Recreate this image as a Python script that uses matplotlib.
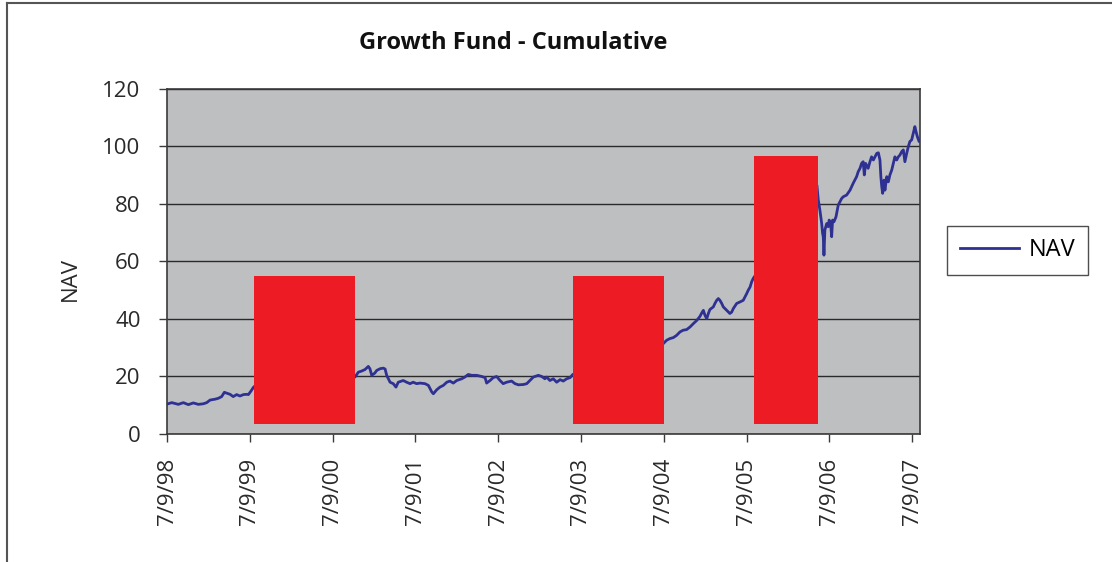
import matplotlib
matplotlib.use('Agg')
import matplotlib.pyplot as plt
import matplotlib.dates as mdates
from matplotlib.lines import Line2D
import pandas as pd

plt.rcParams['font.family'] = ['Open Sans', 'DejaVu Sans']

# NAV: days after 7/9/98 and value
nav_days = [0, 21, 50, 72, 94, 116, 138, 160, 175, 190, 212, 226, 241, 253, 263, 278,
            292, 307, 322, 337, 352, 359, 371, 381, 386,
            829, 844, 859, 873, 888, 895, 903, 917, 925, 940, 954, 962, 969, 984, 998,
            1010, 1020, 1042, 1057, 1072, 1086, 1101, 1116, 1138, 1153, 1168, 1175, 1190,
            1204, 1219, 1234, 1248, 1263, 1278, 1300, 1314, 1329, 1344, 1366, 1388, 1403,
            1410, 1425, 1439, 1454, 1469, 1483, 1498, 1520, 1535, 1550, 1572, 1587, 1601,
            1616, 1638, 1653, 1667, 1675, 1689, 1704, 1719, 1734, 1748, 1763, 1778, 1790,
            2189, 2204, 2219, 2233, 2248, 2263, 2277, 2292, 2307, 2322, 2337, 2351, 2359,
            2366, 2373, 2381, 2388, 2395, 2410, 2417, 2425, 2432, 2439, 2447, 2454, 2469,
            2483, 2491, 2498, 2513, 2527, 2542, 2550, 2557, 2564, 2572, 2579, 2586,
            2867, 2873, 2880, 2888, 2892, 2895, 2898, 2902, 2910, 2917, 2921, 2928, 2932,
            2936, 2942, 2951, 2957, 2961, 2969, 2976, 2983, 2998, 3013, 3020, 3027, 3042,
            3049, 3057, 3064, 3071, 3076, 3082, 3093, 3101, 3108, 3116, 3123, 3131, 3138,
            3145, 3149, 3153, 3157, 3163, 3167, 3175, 3182, 3189, 3197, 3204, 3211, 3219,
            3226, 3233, 3241, 3248, 3255, 3263, 3270, 3277, 3285, 3292, 3299, 3304, 3310,
            3318, 3322]
nav_values = [10.4, 10.9, 10.3, 10.9, 10.2, 10.8, 10.3, 10.5, 10.9, 11.8, 12.1, 12.4, 13.0,
              14.5, 14.2, 13.8, 13.0, 13.7, 13.2, 13.7, 13.8, 13.7, 15.0, 16.2, 16.6,
              19.8, 21.5, 21.9, 22.4, 23.5, 22.7, 20.4, 21.2, 22.1, 22.7, 22.9, 22.6, 20.4,
              18.0, 17.5, 16.3, 18.0, 18.6, 18.0, 17.5, 18.0, 17.5, 17.7, 17.5, 16.9, 14.6,
              14.0, 15.4, 16.3, 16.9, 18.0, 18.4, 17.7, 18.6, 19.2, 19.8, 20.7, 20.4, 20.4,
              20.0, 19.6, 17.7, 18.6, 19.6, 20.0, 18.6, 17.5, 18.0, 18.4, 17.5, 17.1, 17.2,
              17.5, 18.6, 19.8, 20.4, 20.0, 19.2, 19.8, 18.6, 19.2, 18.0, 18.9, 18.4, 19.2,
              19.6, 20.7,
              31.4, 32.6, 33.2, 33.5, 34.3, 35.5, 36.1, 36.3, 37.2, 38.4, 39.5, 40.9, 42.1,
              43.0, 41.3, 40.1, 41.9, 43.3, 44.2, 45.4, 46.5, 47.1, 46.5, 45.4, 44.2, 43.0,
              41.9, 42.4, 43.6, 45.4, 45.9, 46.5, 47.7, 48.8, 50.0, 51.1, 52.9, 54.1,
              86.5, 81.4, 77.9, 73.2, 69.8, 68.6, 62.2, 70.9, 73.2, 72.1, 74.4, 72.6, 68.6,
              74.4, 73.8, 75.5, 77.9, 79.6, 80.8, 81.9, 82.5, 83.1, 84.8, 86.0, 87.2, 89.5,
              91.2, 92.4, 94.1, 94.7, 90.1, 94.1, 92.4, 94.7, 96.4, 95.3, 96.4, 97.6, 97.8,
              95.3, 89.5, 86.0, 83.7, 88.3, 84.8, 89.5, 87.7, 90.1, 91.8, 94.1, 96.4, 95.3,
              96.4, 97.0, 98.2, 98.8, 94.7, 97.6, 99.9, 101.7, 102.3, 104.6, 106.9, 105.2, 103.4,
              101.7, 102.0]

# red boxes pasted over the chart (days after 7/9/98, NAV units)
box_start = [384, 1791, 2589]
box_end = [829, 2192, 2872]
box_bottom = [3.3, 3.3, 3.3]
box_top = [54.9, 54.9, 96.7]

tick_labels = ['7/9/98', '7/9/99', '7/9/00', '7/9/01', '7/9/02',
               '7/9/03', '7/9/04', '7/9/05', '7/9/06', '7/9/07']
y_ticks = [0, 20, 40, 60, 80, 100, 120]

start = mdates.date2num(pd.Timestamp('1998-07-09'))
x = [start + d for d in nav_days]
tick_pos = mdates.date2num(pd.to_datetime(tick_labels, format='%m/%d/%y'))

fig = plt.figure(figsize=(11.12, 5.62), dpi=100)
ax = fig.add_axes([0.1502, 0.2278, 0.6772, 0.6139])
ax.set_facecolor('#BEBFC1')

ax.plot(x, nav_values, color='#2E3192', lw=2.0, label='NAV', zorder=3)

for s, e, b, t in zip(box_start, box_end, box_bottom, box_top):
    ax.bar(start + s, t - b, width=e - s, bottom=b, align='edge',
           color='#ED1C24', zorder=4)

ax.set_xlim(start, start + nav_days[-1])
ax.set_ylim(0, 120)
ax.set_yticks(y_ticks)
ax.set_xticks(tick_pos)
ax.set_xticklabels(tick_labels, rotation=90)
ax.yaxis.grid(True, color='#2a2a2a', lw=1)
ax.set_axisbelow(True)

for sp in ax.spines.values():
    sp.set_color('#3a3a3a')
    sp.set_linewidth(1.2)
ax.tick_params(axis='both', direction='out', length=6, width=1, color='#3a3a3a',
               labelsize=16, labelcolor='#2a2a2a')
ax.tick_params(axis='y', pad=13)
ax.tick_params(axis='x', pad=11)

fig.text(0.063, 0.5036, 'NAV', rotation=90, ha='center', va='center',
         fontsize=16, color='#2a2a2a')
fig.text(0.4618, 0.924, 'Growth Fund - Cumulative', ha='center', va='center',
         fontsize=17, fontweight='bold', color='#111111')

leg = ax.legend(loc='center', bbox_to_anchor=(1017.5 / 1112, 1 - 250.5 / 562),
                bbox_transform=fig.transFigure, fontsize=17, frameon=True,
                fancybox=False, handlelength=2.5, borderpad=0.55, handletextpad=0.4)
leg.get_frame().set_edgecolor('#222222')
leg.get_frame().set_linewidth(1)

# outer chart border (top and left)
fig.add_artist(Line2D([0.0066, 1.0], [0.9941, 0.9941], color='#555555', lw=1.5))
fig.add_artist(Line2D([0.0066, 0.0066], [0.0, 0.9941], color='#555555', lw=1.5))

fig.savefig('out.png', dpi=100)
